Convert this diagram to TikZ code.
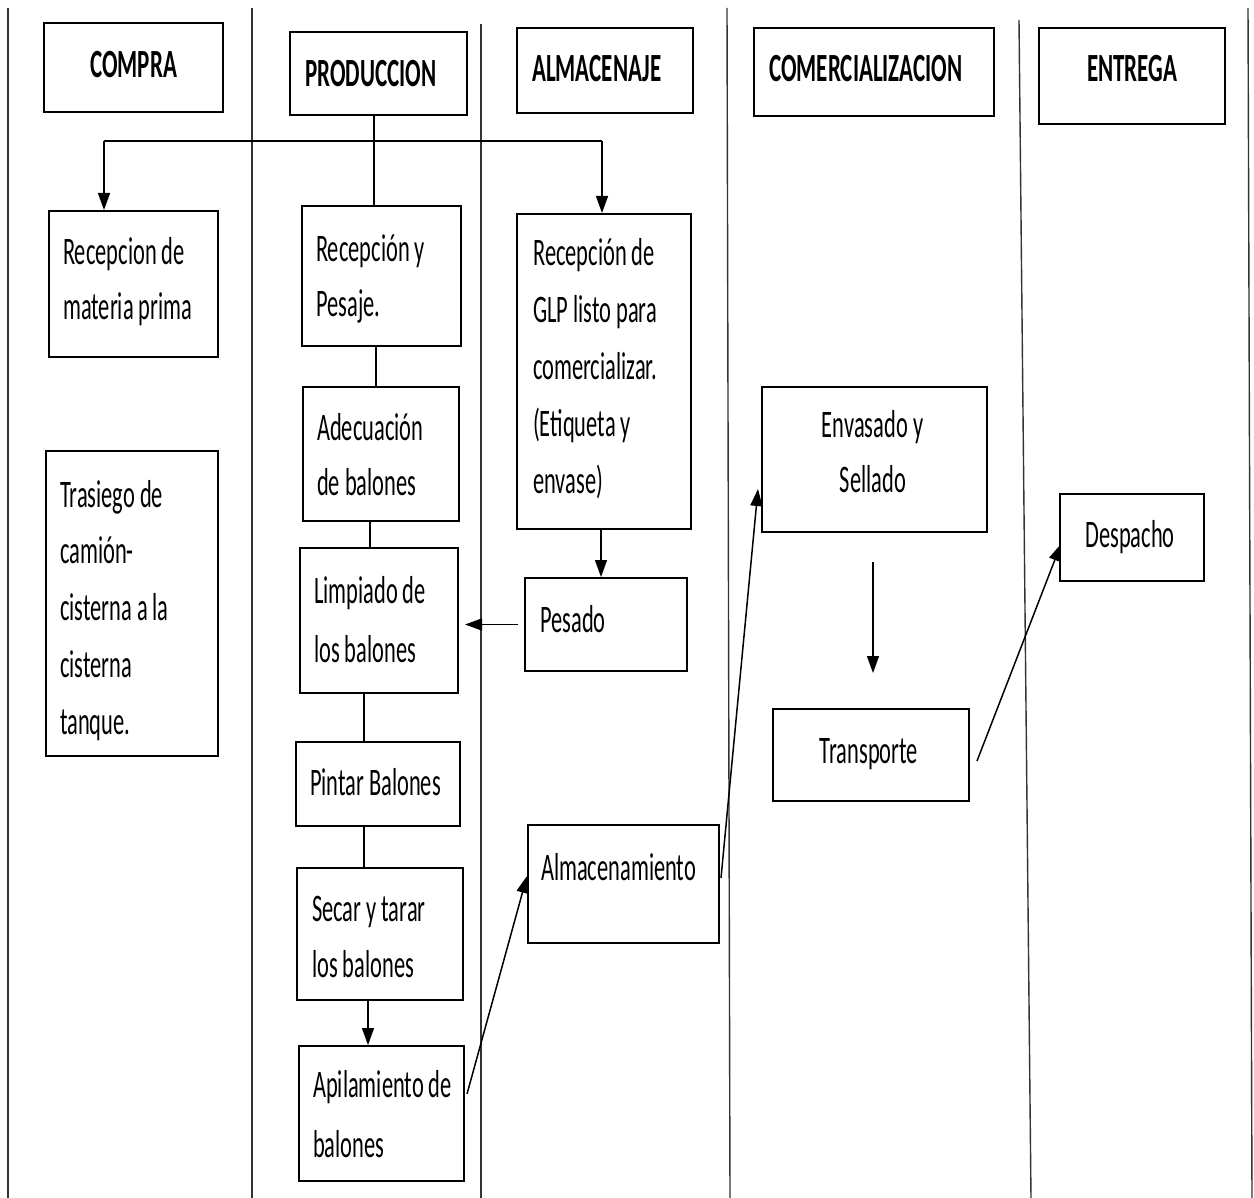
\documentclass[tikz,border=0pt]{standalone}
\usepackage{fontspec}
\setmainfont{Carlito}[FakeStretch=0.575]
\usetikzlibrary{arrows.meta}
\newcommand{\bodyfont}{\fontsize{39}{57}\selectfont}
\newcommand{\tightspace}{\fontdimen2\font=5pt\relax\spaceskip=5pt plus 1pt minus 1pt\relax}
\begin{document}
\begin{tikzpicture}[x=1pt,y=-1pt,
  box/.style={draw, line width=2pt, inner sep=0pt, anchor=north west},
  txt/.style={inner sep=0pt, align=left, text width=260pt, anchor=base west,
    font=\bodyfont, execute at begin node=\tightspace},
  ctxt/.style={inner sep=0pt, align=center, text width=260pt, anchor=base,
    font=\bodyfont, execute at begin node=\tightspace},
  head/.style={inner sep=0pt, anchor=base west, font=\fontsize{40}{47}\selectfont\bfseries},
  lane/.style={line width=1.4pt, draw=black!80},
  link/.style={line width=1.5pt},
  arr/.style={link, -{Triangle[length=17pt,width=12pt]}},
]
\useasboundingbox (0,0) rectangle (1254,1198);
\fill[white] (0,0) rectangle (1254,1198);

% swimlane dividers
\draw[lane] (8,8) -- (8,1198);
\draw[lane] (252,8) -- (252,1198);
\draw[lane] (481,24) -- (481,1198);
\draw[lane] (727,8) -- (730,1198);
\draw[lane] (1019,20) -- (1031,1198);
\draw[lane] (1248,8) -- (1252,1198);

% lane headers
\node[box, minimum width=179pt, minimum height=89pt] (compra) at (43,22) {};
\node[head] (compra-t) at (90,78) {COMPRA};
\node[box, minimum width=177pt, minimum height=83pt] (prod) at (289,31) {};
\node[head] (prod-t) at (305,87) {PRODUCCION};
\node[box, minimum width=176pt, minimum height=85pt] (almh) at (516,27) {};
\node[head] (almh-t) at (532,82) {ALMACENAJE};
\node[box, minimum width=240pt, minimum height=88pt] (com) at (753,27) {};
\node[head] (com-t) at (769,82) {COMERCIALIZACION};
\node[box, minimum width=186pt, minimum height=96pt] (ent) at (1038,27) {};
\node[head] (ent-t) at (1087,82) {ENTREGA};

% COMPRA
\node[box, minimum width=169pt, minimum height=146pt] (rmp) at (48,210) {};
\node[txt] (rmp-t) at (63,265) {Recepcion de\\[-2pt]materia prima};
\node[box, minimum width=172pt, minimum height=305pt] (tras) at (45,450) {};
\node[txt] (tras-t) at (60,507) {Trasiego de\\camión-\\cisterna a la\\cisterna\\tanque.};

% PRODUCCION
\node[box, minimum width=159pt, minimum height=140pt] (recp) at (301,205) {};
\node[txt] (recp-t) at (316,262) {Recepción y\\[-2pt]Pesaje.};
\node[box, minimum width=156pt, minimum height=134pt] (adec) at (302,386) {};
\node[txt] (adec-t) at (317,440) {Adecuación\\[-2pt]de balones};
\node[box, minimum width=158pt, minimum height=145pt] (limp) at (299,547) {};
\node[txt] (limp-t) at (314,603) {Limpiado de\\[2pt]los balones};
\node[box, minimum width=164pt, minimum height=84pt] (pint) at (295,741) {};
\node[txt] (pint-t) at (310,795) {Pintar Balones};
\node[box, minimum width=166pt, minimum height=132pt] (secar) at (296,867) {};
\node[txt] (secar-t) at (312,921) {Secar y tarar\\[-1pt]los balones};
\node[box, minimum width=165pt, minimum height=135pt] (apil) at (298,1045) {};
\node[txt] (apil-t) at (313,1097) {Apilamiento de\\[3pt]balones};

% ALMACENAJE
\node[box, minimum width=174pt, minimum height=315pt] (glp) at (516,213) {};
\node[txt] (glp-t) at (533,266) {Recepción de\\GLP listo para\\comercializar.\\(Etiqueta y\\envase)};
\node[box, minimum width=162pt, minimum height=93pt] (pes) at (524,577) {};
\node[txt] (pes-t) at (540,632) {Pesado};
\node[box, minimum width=191pt, minimum height=118pt] (alm) at (527,824) {};
\node[txt] (alm-t) at (541,880) {Almacenamiento};

% COMERCIALIZACION
\node[box, minimum width=225pt, minimum height=145pt] (env) at (761,386) {};
\node[ctxt] (env-t) at (873,438) {Envasado y\\[-2pt]Sellado};
\node[box, minimum width=196pt, minimum height=92pt] (trans) at (772,708) {};
\node[ctxt] (trans-t) at (869,763) {Transporte};

% ENTREGA
\node[box, minimum width=144pt, minimum height=87pt] (desp) at (1059,493) {};
\node[ctxt] (desp-t) at (1130,547) {Despacho};

% branch from PRODUCCION to the first receptions
\coordinate (bL) at (104,141);
\coordinate (bR) at (602,141);
\draw[link] (bL) -- (bR);
\draw[arr] (bL) -- (bL |- rmp.north);
\draw[arr] (bR) -- (bR |- glp.north);
\draw[link] ([xshift=-4.5pt]prod.south) -- ([xshift=-4.5pt]prod.south |- recp.north);

% production chain
\draw[link] ([xshift=-5.5pt]recp.south) -- ([xshift=-5.5pt]recp.south |- adec.north);
\draw[link] ([xshift=-11pt]adec.south) -- ([xshift=-11pt]adec.south |- limp.north);
\draw[link] ([xshift=-15pt]limp.south) -- ([xshift=-15pt]limp.south |- pint.north);
\draw[link] ([xshift=-14pt]pint.south) -- ([xshift=-14pt]pint.south |- secar.north);
\draw[arr] ([xshift=-12pt]secar.south) -- ([xshift=-12pt]secar.south |- apil.north);

% storage flow
\draw[arr] ([xshift=-3pt]glp.south) -- ([xshift=-3pt]glp.south |- pes.north);
\draw[arr, shorten <=6pt, shorten >=6pt] (pes.west) -- (pes.west -| limp.east);
\draw[arr] ([xshift=2pt,yshift=19.5pt]apil.east) -- ([yshift=8pt]alm.west);
\draw[arr] ([xshift=1pt,yshift=6pt]alm.east) -- ([xshift=-3pt,yshift=-29.5pt]env.west);

% commercialisation and delivery
\draw[arr, shorten <=29pt, shorten >=35pt] ([xshift=-1.5pt]env.south) -- ([xshift=-1.5pt]env.south |- trans.north);
\draw[arr] ([xshift=7pt,yshift=-6pt]trans.east) -- ([xshift=2pt,yshift=-6.5pt]desp.west);
\end{tikzpicture}
\end{document}
